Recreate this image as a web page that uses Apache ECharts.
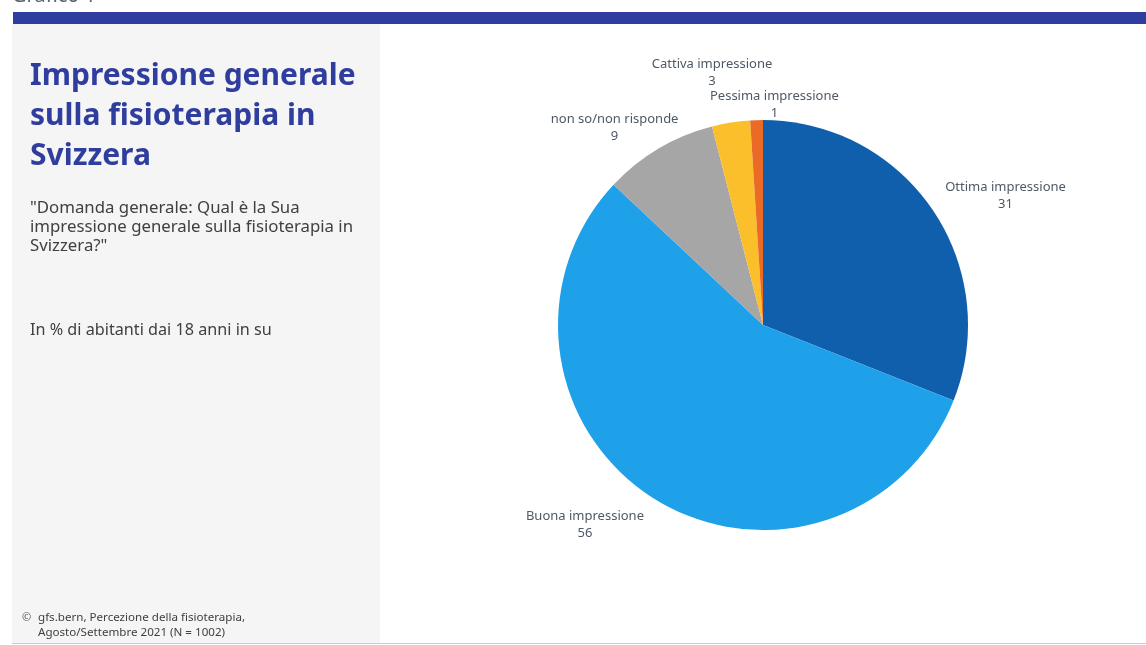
<!DOCTYPE html>
<html>
<head>
<meta charset="utf-8">
<script src="https://cdn.jsdelivr.net/npm/echarts@6/dist/echarts.min.js"></script>
<style>
  html, body { margin: 0; padding: 0; background: #ffffff; }
  #chart { width: 1146px; height: 645px; }
</style>
</head>
<body>
<div id="chart"></div>
<script>
// Survey answers (percent of residents aged 18+)
const categories = [
  'Ottima impressione',
  'Buona impressione',
  'non so/non risponde',
  'Cattiva impressione',
  'Pessima impressione'
];
const values = [31, 56, 9, 3, 1];
const colors = ['#0F5FAD', '#1FA1EA', '#A6A6A6', '#FBBF2C', '#EA6A26'];

// Per-slice nudges of the outside labels (px)
const labelNudge = [
  [63, -11],
  [-60, 22],
  [-36, -16],
  [-13, -44],
  [23, -9]
];

const titleLines = 'Impressione generale\nsulla fisioterapia in\nSvizzera';
const questionText = '"Domanda generale: Qual è la Sua\nimpressione generale sulla fisioterapia in\nSvizzera?"';
const baseText = 'In % di abitanti dai 18 anni in su';
const sourceText = 'gfs.bern, Percezione della fisioterapia,\nAgosto/Settembre 2021 (N = 1002)';

const chart = echarts.init(document.getElementById('chart'), null, { renderer: 'canvas' });

const font = '"Noto Sans", "Open Sans", sans-serif';

chart.setOption({
  animation: false,
  backgroundColor: '#ffffff',
  graphic: [
    { type: 'text', left: 12, top: -14, style: { text: 'Grafico 1', font: '20px ' + font, fill: '#5a6470' } },
    { type: 'rect', shape: { x: 13, y: 12, width: 1133, height: 12 }, style: { fill: '#2E3D9E' } },
    { type: 'rect', shape: { x: 12, y: 24, width: 368, height: 619 }, style: { fill: '#F5F5F5' } },
    { type: 'rect', shape: { x: 12, y: 643, width: 1134, height: 1 }, style: { fill: '#CCCCCC' } },
    { type: 'text', left: 30, top: 56, style: { text: titleLines, font: 'bold 30px ' + font, fill: '#2F3E9E', lineHeight: 40 } },
    { type: 'text', left: 30, top: 199, style: { text: questionText, font: '16.8px ' + font, fill: '#404040', lineHeight: 19 } },
    { type: 'text', left: 30, top: 322, style: { text: baseText, font: '16.2px ' + font, fill: '#404040' } },
    { type: 'text', left: 22, top: 612, style: { text: '©', font: '11px ' + font, fill: '#555555' } },
    { type: 'text', left: 38, top: 610, style: { text: sourceText, font: '11.6px ' + font, fill: '#404040', lineHeight: 15 } }
  ],
  series: [{
    type: 'pie',
    center: [763, 325],
    radius: 205,
    startAngle: 90,
    clockwise: true,
    avoidLabelOverlap: false,
    itemStyle: { borderWidth: 0 },
    emphasis: { disabled: true },
    label: {
      show: true,
      position: 'outside',
      formatter: '{b}\n{c}',
      fontFamily: font,
      fontSize: 13,
      color: '#4E5966',
      lineHeight: 17,
      align: 'center'
    },
    labelLine: { show: false, length: 6, length2: 0 },
    labelLayout: function (params) {
      const n = labelNudge[params.dataIndex] || [0, 0];
      return { dx: n[0], dy: n[1], align: 'center' };
    },
    data: categories.map((name, i) => ({
      name: name,
      value: values[i],
      itemStyle: { color: colors[i] }
    }))
  }]
});
</script>
</body>
</html>
